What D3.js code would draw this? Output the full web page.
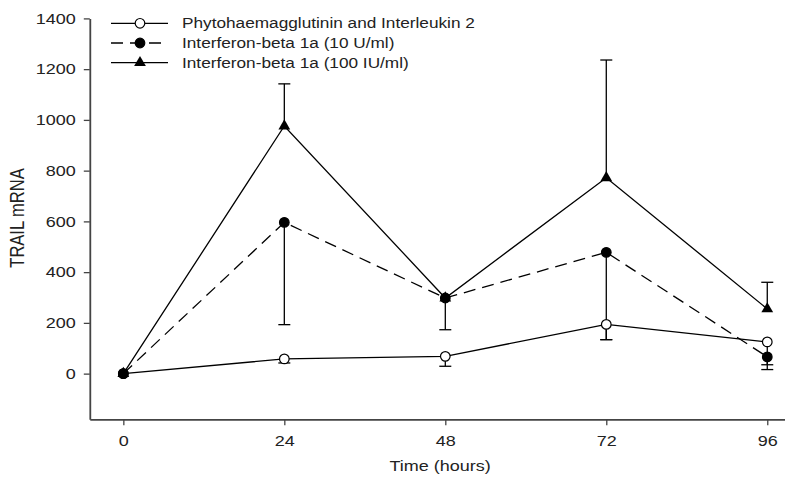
<!DOCTYPE html>
<html>
<head>
<meta charset="utf-8">
<script src="https://cdn.jsdelivr.net/npm/d3@7"></script>
<style>
  html, body { margin: 0; padding: 0; background: #fff; }
  svg { display: block; }
  text { font-family: "Liberation Sans", Arial, sans-serif; fill: #222; }
</style>
</head>
<body>
<svg id="chart" width="785" height="479"></svg>
<script>
// Time points (hours)
const hours = [0, 24, 48, 72, 96];
const xTicks = [0, 24, 48, 72, 96];
const yTicks = [0, 200, 400, 600, 800, 1000, 1200, 1400];

// Series names
const seriesNames = [
  "Phytohaemagglutinin and Interleukin 2",
  "Interferon-beta 1a (10 U/ml)",
  "Interferon-beta 1a (100 IU/ml)"
];

// Mean TRAIL mRNA
const phaIl2 = [0, 58, 68, 194, 125];
const ifn10 = [0, 596, 298, 478, 66];
const ifn100 = [0, 976, 298, 772, 255];

// One-sided error bars (lower for the first two, upper for the last)
const phaIl2Err = [0, 16, 39, 60, 90];
const ifn10Err = [0, 403, 125, 344, 50];
const ifn100Err = [0, 166, 0, 464, 105];

const series = [
  { name: seriesNames[0], values: phaIl2, err: phaIl2Err, dir: -1, symbol: "openCircle", dash: null },
  { name: seriesNames[1], values: ifn10, err: ifn10Err, dir: -1, symbol: "filledCircle", dash: "12,7" },
  { name: seriesNames[2], values: ifn100, err: ifn100Err, dir: 1, symbol: "triangle", dash: null }
];

const svg = d3.select("#chart");
const x = d3.scaleLinear().domain([-5, 100]).range([89.8, 794.1]);
const y = d3.scaleLinear().domain([-180, 1400]).range([419.3, 18.4]);
const stretch = 1.2;

// Axes
const yAxis = svg.append("g").attr("transform", `translate(${x(-5)},0)`)
  .call(d3.axisLeft(y).tickValues(yTicks).tickFormat(d3.format("d"))
    .tickSize(6).tickSizeOuter(0).tickPadding(8));
const xAxis = svg.append("g").attr("transform", `translate(0,${y(-180)})`)
  .call(d3.axisBottom(x).tickValues(xTicks).tickFormat(d3.format("d"))
    .tickSize(6).tickSizeOuter(0).tickPadding(10));

[yAxis, xAxis].forEach(ax => {
  ax.select(".domain").attr("stroke", "#444").attr("stroke-width", 1.8);
  ax.selectAll(".tick line").attr("stroke", "#444").attr("stroke-width", 1.3);
  ax.selectAll(".tick text").attr("font-size", 15).attr("fill", "#222")
    .style("font-family", "Liberation Sans, Arial, sans-serif");
});
// Widen the tick labels while keeping their right edge fixed
yAxis.selectAll(".tick text").each(function () {
  const t = d3.select(this);
  const xx = +t.attr("x");
  t.attr("x", xx / stretch).attr("transform", `scale(${stretch},1)`);
});
xAxis.selectAll(".tick text").attr("transform", `scale(${stretch},1)`);

// Axis titles
svg.append("text")
  .attr("transform", `translate(440,471) scale(${stretch},1)`)
  .attr("text-anchor", "middle").attr("font-size", 15)
  .text("Time (hours)");
svg.append("text")
  .attr("transform", `translate(24,218) rotate(-90) scale(1,${stretch})`)
  .attr("text-anchor", "middle").attr("font-size", 16.5)
  .text("TRAIL mRNA");

// Lines
const line = d3.line().x((d, i) => x(hours[i])).y(d => y(d));
series.forEach(s => {
  svg.append("path").datum(s.values)
    .attr("d", line).attr("fill", "none")
    .attr("stroke", "#000").attr("stroke-width", 1.3)
    .attr("stroke-dasharray", s.dash);
});

// Error bars
series.forEach(s => {
  const g = svg.append("g").attr("stroke", "#000").attr("stroke-width", 1.3);
  s.values.forEach((v, i) => {
    if (!s.err[i]) return;
    const end = v + s.dir * s.err[i];
    g.append("line").attr("x1", x(hours[i])).attr("x2", x(hours[i]))
      .attr("y1", y(v)).attr("y2", y(end));
    g.append("line").attr("x1", x(hours[i]) - 6).attr("x2", x(hours[i]) + 6)
      .attr("y1", y(end)).attr("y2", y(end));
  });
});

// Markers
function drawMarker(g, type, cx, cy) {
  if (type === "triangle") {
    g.append("path").attr("d", d3.symbol(d3.symbolTriangle, 60)())
      .attr("transform", `translate(${cx},${cy})`).attr("fill", "#000");
  } else {
    g.append("circle").attr("cx", cx).attr("cy", cy).attr("r", 4.8)
      .attr("fill", type === "openCircle" ? "#fff" : "#000")
      .attr("stroke", "#000").attr("stroke-width", 1.2);
  }
}
series.forEach(s => {
  const g = svg.append("g");
  s.values.forEach((v, i) => drawMarker(g, s.symbol, x(hours[i]), y(v)));
});

// Legend
const legend = svg.append("g");
series.forEach((s, i) => {
  const ly = 23.3 + i * 19.7;
  legend.append("line").attr("x1", 111).attr("x2", 168).attr("y1", ly).attr("y2", ly)
    .attr("stroke", "#000").attr("stroke-width", 1.3).attr("stroke-dasharray", s.dash);
  drawMarker(legend, s.symbol, 140, ly);
  legend.append("text")
    .attr("transform", `translate(182,${ly + 5}) scale(1.23,1)`)
    .attr("font-size", 14).text(s.name);
});
</script>
</body>
</html>
